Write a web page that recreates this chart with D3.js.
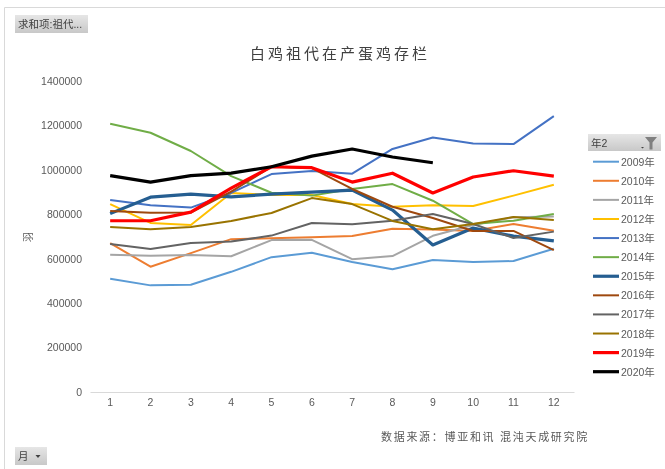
<!doctype html><html><head><meta charset="utf-8">
<style>
html,body{margin:0;padding:0;background:#fff}
svg{display:block;filter:blur(0.35px)}
text{font-family:"Liberation Sans","Noto Sans CJK SC",sans-serif}
</style></head><body><script src='https://d3js.org/d3.v7.min.js'></script>

<script>
// Data
const months = [1,2,3,4,5,6,7,8,9,10,11,12];
const yTicks = [0,200000,400000,600000,800000,1000000,1200000,1400000];

const y2009 = [510000,480000,483000,541000,607000,627000,585000,553000,594000,585000,590000,645000];
const y2010 = [670000,564000,625000,688000,692000,697000,702000,735000,731000,725000,756000,726000];
const y2011 = [618000,613000,617000,611000,684000,685000,598000,612000,703000,752000,787000,790000];
const y2012 = [846000,761000,752000,896000,887000,887000,846000,834000,841000,837000,884000,933000];
const y2013 = [864000,841000,830000,896000,981000,995000,983000,1094000,1146000,1119000,1116000,1242000];
const y2014 = [1208000,1167000,1085000,972000,897000,884000,914000,936000,861000,756000,771000,801000];
const y2015 = [803000,877000,891000,878000,891000,900000,909000,819000,662000,738000,702000,680000];
const y2016 = [815000,807000,808000,902000,1014000,1008000,914000,834000,783000,725000,725000,639000];
const y2017 = [666000,644000,671000,677000,704000,761000,755000,771000,801000,756000,693000,722000];
const y2018 = [743000,733000,743000,770000,806000,873000,846000,770000,733000,756000,788000,774000];
const y2019 = [771000,771000,810000,918000,1014000,1010000,945000,985000,896000,968000,996000,972000];
const y2020 = [974000,945000,974000,985000,1014000,1062000,1094000,1058000,1032000];

const seriesNames = ['2009年','2010年','2011年','2012年','2013年','2014年','2015年','2016年','2017年','2018年','2019年','2020年'];
const seriesValues = [y2009,y2010,y2011,y2012,y2013,y2014,y2015,y2016,y2017,y2018,y2019,y2020];
const colors = ['#5b9bd5','#ed7d31','#a5a5a5','#ffc000','#4472c4','#70ad47','#255e91','#9e480e','#636363','#997300','#ff0000','#000000'];
const widths = [2,2,2,2,2,2,3.2,2,2,2,3.2,3.2];

// Dimensions
const xSize = 665; const ySize = 469;

const svg = d3.select("body").append("svg")
              .attr("width", xSize)
              .attr("height", ySize);

const defs = svg.append("defs");
const grad = defs.append("linearGradient").attr("id","btn").attr("x1",0).attr("x2",0).attr("y1",0).attr("y2",1);
grad.append("stop").attr("offset","0%").attr("stop-color","#e6e6e6");
grad.append("stop").attr("offset","100%").attr("stop-color","#c8c8c8");

// chart frame
svg.append("path")
   .attr("d","M4.5,469V7.5H665")
   .attr("fill","none")
   .attr("stroke","#d9d9d9");

// scales
const x = d3.scaleBand().domain(months).range([90,574]);
const y = d3.scaleLinear().domain([0,1400000]).range([392,81]);

// bottom axis
const xAxis = svg.append("g")
   .attr("transform","translate(0,392)")
   .call(d3.axisBottom(x).tickSize(0).tickPadding(7));
xAxis.select(".domain").attr("stroke","#d9d9d9");
xAxis.selectAll("text").attr("font-size",10.5).attr("fill","#595959");

// left axis, labels only
const yAxis = svg.append("g")
   .attr("transform","translate(85,0)")
   .call(d3.axisLeft(y).tickValues(yTicks).tickFormat(d3.format("d")).tickSize(0).tickPadding(3));
yAxis.select(".domain").remove();
yAxis.selectAll("text").attr("font-size",10.5).attr("fill","#595959");

// lines
const line = d3.line()
               .x((d,i) => x(months[i]) + x.bandwidth()/2)
               .y(d => y(d));

svg.append("g").selectAll("path")
   .data(seriesValues)
   .join("path")
   .attr("fill","none")
   .attr("stroke",(d,i) => colors[i])
   .attr("stroke-width",(d,i) => widths[i])
   .attr("stroke-linejoin","round")
   .attr("d",line);

// title, axis name, source
svg.append("text").attr("x",340).attr("y",59)
   .attr("text-anchor","middle").attr("font-size",15).attr("letter-spacing",3).attr("fill","#404040")
   .text("白鸡祖代在产蛋鸡存栏");
svg.append("text").attr("transform","translate(32,237) rotate(-90)")
   .attr("text-anchor","middle").attr("font-size",10).attr("fill","#595959")
   .text("羽");
svg.append("text").attr("x",381).attr("y",441)
   .attr("font-size",11).attr("letter-spacing",1.7).attr("fill","#595959")
   .text("数据来源：博亚和讯 混沌天成研究院");

// field buttons
svg.append("rect").attr("x",15).attr("y",15).attr("width",73).attr("height",18).attr("fill","url(#btn)");
svg.append("text").attr("x",18).attr("y",28).attr("font-size",10.5).attr("fill","#404040").text("求和项:祖代...");

svg.append("rect").attr("x",15).attr("y",447).attr("width",32).attr("height",18).attr("fill","url(#btn)");
svg.append("text").attr("x",18).attr("y",460).attr("font-size",10.5).attr("fill","#404040").text("月");
svg.append("path").attr("d","M35.5,455h5l-2.5,3z").attr("fill","#404040");

// legend
svg.append("rect").attr("x",588).attr("y",134).attr("width",73).attr("height",17).attr("fill","url(#btn)");
svg.append("text").attr("x",591).attr("y",147).attr("font-size",10.5).attr("fill","#404040").text("年2");
svg.append("path").attr("d","M641,147h3l-1.5,1.5z").attr("fill","#404040");
svg.append("path").attr("d","M645,137h12l-4.5,5.5v7h-3v-7z").attr("fill","#808080");

const legendY = d3.scalePoint().domain(seriesNames).range([161.7,371.7]);
const legend = svg.append("g").selectAll("g")
   .data(seriesNames)
   .join("g")
   .attr("transform",d => `translate(0,${legendY(d)})`);
legend.append("line")
   .attr("x1",593).attr("x2",619)
   .attr("stroke",(d,i) => colors[i])
   .attr("stroke-width",(d,i) => widths[i]);
legend.append("text")
   .attr("x",621).attr("y",4)
   .attr("font-size",10.5).attr("fill","#595959")
   .text(d => d);
</script></body></html>
